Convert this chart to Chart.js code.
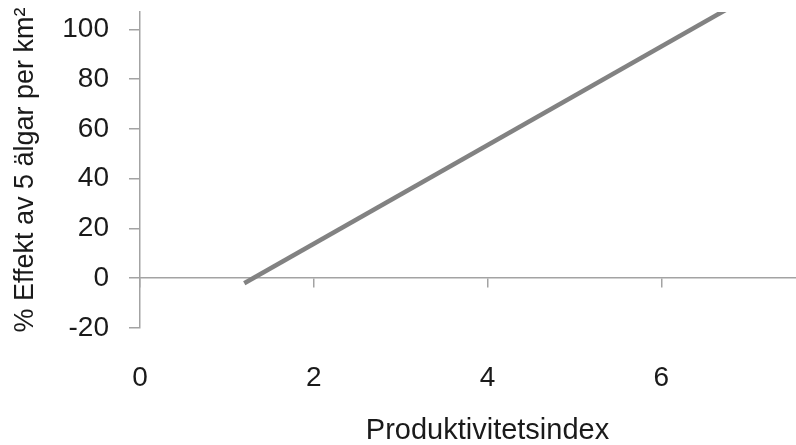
<!DOCTYPE html>
<html>
<head>
<meta charset="utf-8">
<script src="https://cdn.jsdelivr.net/npm/chart.js@4"></script>
<style>
  html, body { margin: 0; padding: 0; background: #fff; overflow: hidden; }
  #wrap { position: relative; width: 835px; height: 445px; }
</style>
</head>
<body>
<div id="wrap"><canvas id="chart"></canvas></div>
<script>
// data
var xValues = [1.2, 6.75];
var yValues = [-2, 108];
var xTicks = [0, 2, 4, 6];
var yTicks = [-20, 0, 20, 40, 60, 80, 100];

var xTitle = 'Produktivitetsindex';
var yTitle = '% Effekt av 5 älgar per km²';

var axisGrey = '#a3a3a3';
var lineGrey = '#828282';
var textColor = '#1a1a1a';
var fontFamily = '"Liberation Sans", Arial, Helvetica, sans-serif';

var points = xValues.map(function (x, i) {
    return {x: x, y: yValues[i]};
});

//only show the ticks that are in the picture
function keepTick(list) {
    return function (value) {
        return list.indexOf(value) >= 0 ? String(value) : '';
    };
}

var ctx = document.getElementById('chart');
var chart = new Chart(ctx, {
    type: 'scatter',
    data: {
        datasets: [{
            data: points,
            showLine: true,
            borderColor: lineGrey,
            borderWidth: 4.5,
            pointRadius: 0,
            clip: 0
        }]
    },
    options: {
        responsive: true,
        maintainAspectRatio: false,
        animation: false,
        layout: {
            padding: {top: 12, right: 0, bottom: 0, left: 0}
        },
        plugins: {
            legend: {display: false},
            tooltip: {enabled: false}
        },
        scales: {
            x: {
                type: 'linear',
                position: 'bottom',
                min: 0,
                max: 8,
                border: {display: false},
                grid: {display: false, drawTicks: false},
                ticks: {
                    stepSize: 2,
                    padding: 33,
                    maxRotation: 0,
                    color: textColor,
                    font: {family: fontFamily, size: 28},
                    callback: keepTick(xTicks)
                },
                title: {
                    display: true,
                    text: xTitle,
                    color: textColor,
                    font: {family: fontFamily, size: 29, lineHeight: 1.0},
                    padding: {top: 0, bottom: 0}
                },
                afterFit: function (scale) {
                    scale.height = 117;
                    scale.paddingLeft = 0;
                    scale.paddingRight = 0;
                }
            },
            // axis line drawn where y = 0, with tick marks pointing down
            xZero: {
                type: 'linear',
                axis: 'x',
                position: {y: 0},
                min: 0,
                max: 8,
                border: {display: true, color: axisGrey, width: 1.5},
                grid: {
                    drawOnChartArea: false,
                    drawTicks: true,
                    tickLength: 9,
                    color: axisGrey,
                    lineWidth: 1.5
                },
                ticks: {stepSize: 2, display: false},
                afterFit: function (scale) {
                    scale.paddingLeft = 0;
                    scale.paddingRight = 0;
                }
            },
            y: {
                type: 'linear',
                min: -20,
                max: 107,
                border: {display: true, color: axisGrey, width: 1.5},
                grid: {
                    drawOnChartArea: false,
                    drawTicks: true,
                    tickLength: 11,
                    color: axisGrey,
                    lineWidth: 1.5
                },
                ticks: {
                    stepSize: 20,
                    includeBounds: false,
                    padding: 20,
                    color: textColor,
                    font: {family: fontFamily, size: 28},
                    callback: keepTick(yTicks)
                },
                title: {
                    display: true,
                    text: yTitle,
                    color: textColor,
                    font: {family: fontFamily, size: 27, lineHeight: 1.0},
                    padding: {top: 12, bottom: 0}
                },
                afterFit: function (scale) {
                    scale.width = 140;
                    scale.paddingTop = 0;
                    scale.paddingBottom = 0;
                }
            }
        }
    }
});
</script>
</body>
</html>
